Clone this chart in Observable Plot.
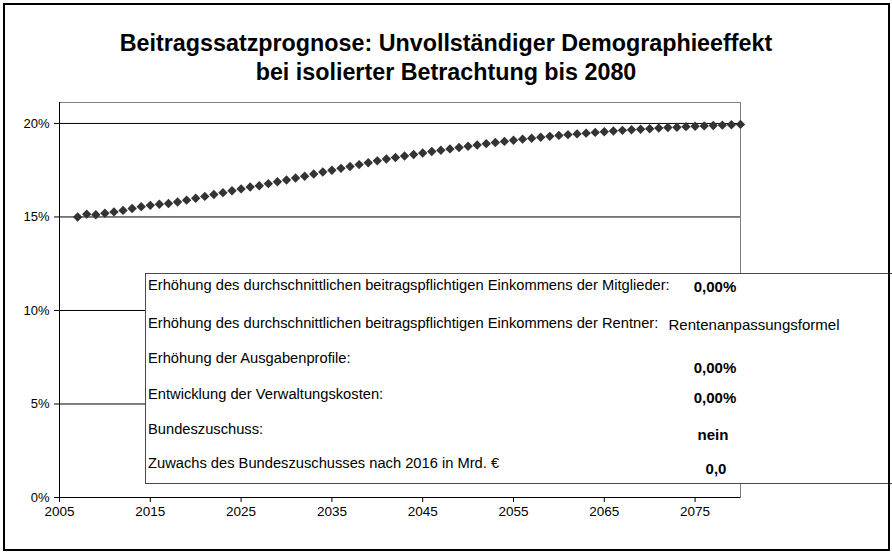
<!DOCTYPE html>
<html>
<head>
<meta charset="utf-8">
<script src="https://cdn.jsdelivr.net/npm/d3@7"></script>
<script src="https://cdn.jsdelivr.net/npm/@observablehq/plot@0.6"></script>
<style>
  html, body { margin: 0; padding: 0; background: #fff; }
  #wrap { position: relative; width: 892px; height: 554px; overflow: hidden; font-family: "Liberation Sans", Arial, sans-serif; }
  #frame { position: absolute; left: 3px; top: 3px; width: 883px; height: 544px; border: 2px solid #000; }
  #title { position: absolute; left: 0; top: 29px; width: 892px; text-align: center; font-weight: bold; font-size: 23.3px; line-height: 29px; color: #000; }
  #chart { position: absolute; left: 0; top: 0; }
  #box { position: absolute; left: 145px; top: 273px; width: 760px; height: 209px; background: #fff; border: 1.5px solid #4a4a4a; }
  .lab { position: absolute; font-size: 14.7px; white-space: nowrap; transform: translateY(-50%); color: #000; }
  .val { position: absolute; font-size: 15px; white-space: nowrap; transform: translate(-50%, -50%); color: #000; font-weight: bold; }
</style>
</head>
<body>
<div id="wrap">
  <div id="chart"></div>
  <div id="box"></div>
  <div id="title"></div>
  <div id="frame"></div>
</div>
<script>
// ---- data ----
const titleLines = ["Beitragssatzprognose: Unvollständiger Demographieeffekt", "bei isolierter Betrachtung bis 2080"];
const years = d3.range(2007, 2081);
const rates = [
  15.00, 15.15, 15.12, 15.20, 15.27, 15.35, 15.45, 15.55, 15.62, 15.68,
  15.72, 15.80, 15.90, 16.00, 16.10, 16.20, 16.30, 16.40, 16.50, 16.60,
  16.67, 16.78, 16.88, 16.98, 17.08, 17.18, 17.30, 17.40, 17.50, 17.60,
  17.70, 17.80, 17.90, 18.00, 18.10, 18.18, 18.26, 18.34, 18.42, 18.50,
  18.57, 18.64, 18.71, 18.78, 18.85, 18.92, 18.98, 19.04, 19.10, 19.16,
  19.21, 19.26, 19.31, 19.36, 19.40, 19.44, 19.48, 19.52, 19.56, 19.60,
  19.63, 19.66, 19.69, 19.72, 19.75, 19.78, 19.80, 19.83, 19.85, 19.87,
  19.89, 19.91, 19.93, 19.95
];
const xTicks = [2005, 2015, 2025, 2035, 2045, 2055, 2065, 2075];
const yTicks = [0, 0.05, 0.10, 0.15, 0.20];
const boxLabels = [
  "Erhöhung des durchschnittlichen beitragspflichtigen Einkommens der Mitglieder:",
  "Erhöhung des durchschnittlichen beitragspflichtigen Einkommens der Rentner:",
  "Erhöhung der Ausgabenprofile:",
  "Entwicklung der Verwaltungskosten:",
  "Bundeszuschuss:",
  "Zuwachs des Bundeszuschusses nach 2016 in Mrd. €"
];
const boxValues = ["0,00%", "Rentenanpassungsformel", "0,00%", "0,00%", "nein", "0,0"];

// ---- layout (coordinates relative to the box) ----
const labelY = [11, 49, 84, 120, 155, 189];
const valueY = [12, 50, 93, 123, 160, 194];
const valueX = [569, 608, 569, 569, 567, 570];
const valueBold = [true, false, true, true, true, true];

const data = years.map((y, i) => ({year: y, rate: rates[i] / 100}));

const diamond = {
  draw(ctx, size) {
    const h = Math.sqrt(size / Math.PI);
    ctx.moveTo(0, -h); ctx.lineTo(h, 0); ctx.lineTo(0, h); ctx.lineTo(-h, 0); ctx.closePath();
  }
};

const plot = Plot.plot({
  width: 892,
  height: 554,
  marginLeft: 59,
  marginRight: 152,
  marginTop: 102,
  marginBottom: 57,
  x: {domain: [2005, 2080]},
  y: {domain: [0, 0.2112]},
  style: {fontFamily: "'Liberation Sans', Arial, sans-serif", fontSize: "13px", color: "#000", background: "transparent"},
  marks: [
    Plot.frame({stroke: "#808080", strokeWidth: 1}),
    Plot.ruleY(yTicks.slice(1), {stroke: "#000", strokeWidth: 1}),
    Plot.ruleX([2005], {stroke: "#000", strokeWidth: 1}),
    Plot.ruleY([0], {stroke: "#000", strokeWidth: 1}),
    Plot.axisY({ticks: yTicks, tickFormat: d3.format(".0%"), tickSize: 5, tickPadding: 5, label: null, stroke: "#000", fill: "#000"}),
    Plot.axisX({ticks: xTicks, tickFormat: d => String(d), tickSize: 5, tickPadding: 4, label: null, stroke: "#000", fill: "#000", fontSize: 13.5}),
    Plot.dot(data, {x: "year", y: "rate", symbol: diamond, r: 4.7, fill: "#333", stroke: "none"})
  ]
});
document.getElementById("chart").appendChild(plot);

document.getElementById("title").innerHTML = titleLines.map(t => `<div>${t}</div>`).join("");

const box = document.getElementById("box");
boxLabels.forEach((t, i) => {
  const d = document.createElement("div");
  d.className = "lab";
  d.style.left = "2px";
  d.style.top = labelY[i] + "px";
  d.textContent = t;
  box.appendChild(d);
});
boxValues.forEach((t, i) => {
  const d = document.createElement("div");
  d.className = "val";
  d.style.left = valueX[i] + "px";
  d.style.top = valueY[i] + "px";
  d.style.fontWeight = valueBold[i] ? "bold" : "normal";
  d.textContent = t;
  box.appendChild(d);
});
</script>
</body>
</html>
